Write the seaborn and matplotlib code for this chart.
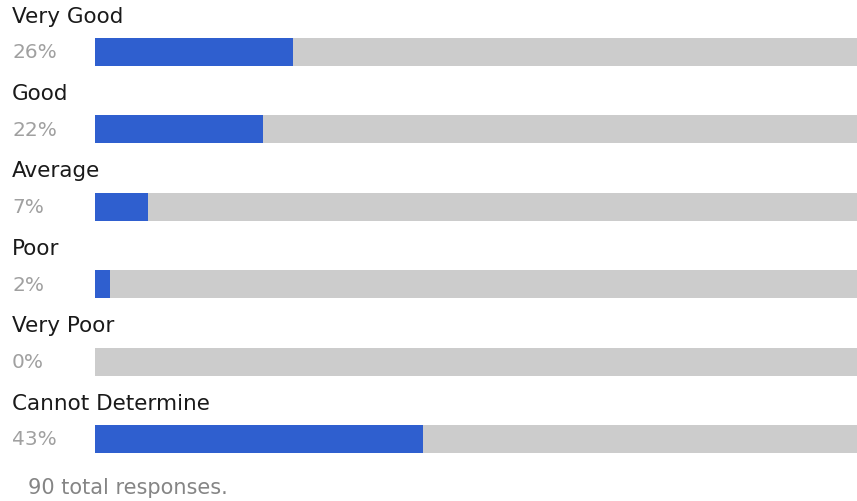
import matplotlib
matplotlib.use("Agg")
import matplotlib.pyplot as plt
import matplotlib.transforms as mtransforms
import seaborn as sns
import pandas as pd

categories = ["Very Good", "Good", "Average", "Poor", "Very Poor", "Cannot Determine"]
percents = [26, 22, 7, 2, 0, 43]
pct_labels = ["26%", "22%", "7%", "2%", "0%", "43%"]
total_note = "90 total responses."

sns.set_style("white")
plt.rcParams['font.family'] = ['DejaVu Sans']

W, H = 857, 502
fig = plt.figure(figsize=(W / 100, H / 100), dpi=100)
ax = fig.add_axes([95 / W, 0, 1 - 95 / W, 1])

df = pd.DataFrame({"cat": categories, "pct": percents, "full": [100] * len(categories)})

sns.barplot(data=df, x="full", y="cat", color="#cccccc", width=0.362,
            linewidth=0, saturation=1, ax=ax, orient="h")
sns.barplot(data=df, x="pct", y="cat", color="#2f5fcf", width=0.362,
            linewidth=0, saturation=1, ax=ax, orient="h")

ax.set_xlim(0, 100)
ax.set_ylim((H - 53) / 77.4, -53 / 77.4)
ax.axis("off")

trans = mtransforms.blended_transform_factory(fig.transFigure, ax.transData)
for i, (c, p) in enumerate(zip(categories, pct_labels)):
    ax.text(12 / W, i - 0.47, c, transform=trans, ha="left", va="center",
            fontsize=15.5, color="#1a1a1a", clip_on=False, family=['DejaVu Sans'])
    ax.text(12 / W, i, p, transform=trans, ha="left", va="center",
            fontsize=14.5, color="#a0a0a0", clip_on=False, family=['DejaVu Sans'])

ax.text(28 / W, (488 - 53) / 77.4, total_note, transform=trans, ha="left",
        va="center", fontsize=15, color="#858585", clip_on=False, family=['DejaVu Sans'])

fig.savefig("out.png", dpi=100)
